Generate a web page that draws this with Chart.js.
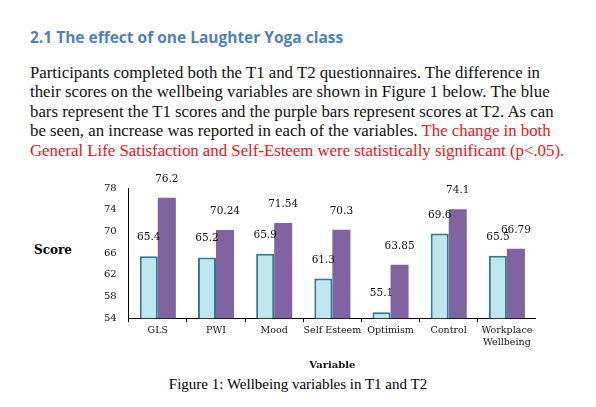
<!DOCTYPE html>
<html><head><meta charset="utf-8">
<script src="https://cdn.jsdelivr.net/npm/chart.js@4"></script>
<style>
body{margin:0;width:596px;height:407px;background:#fff;position:relative;overflow:hidden;font-family:"DejaVu Serif",serif}
#h{position:absolute;left:30px;top:26px;font-family:"Open Sans",sans-serif;font-weight:bold;font-size:15.5px;color:#4F81BD}
#p{position:absolute;left:30px;top:63px;line-height:19.4px;color:#111;font-family:"Liberation Serif",serif;font-size:16.8px;white-space:nowrap}
#p .r{color:#e8141b}
#score{position:absolute;left:34px;top:243px;font-size:12px;font-weight:bold}
#cap{position:absolute;left:0;width:596px;text-align:center;top:376px;font-family:"Liberation Serif",serif;font-size:15px}
#wrap{position:absolute;left:100px;top:170px;width:436px;height:205px}
</style></head><body>
<div id="h">2.1 The effect of one Laughter Yoga class</div>
<div id="p">Participants completed both the T1 and T2 questionnaires. The difference in<br>their scores on the wellbeing variables are shown in Figure 1 below. The blue<br>bars represent the T1 scores and the purple bars represent scores at T2. As can<br>be seen, an increase was reported in each of the variables. <span class="r">The change in both</span><br><span class="r">General Life Satisfaction and Self-Esteem were statistically significant (p&lt;.05).</span></div>
<div id="score">Score</div>
<div id="wrap"><canvas id="c"></canvas></div>
<div id="cap">Figure 1: Wellbeing variables in T1 and T2</div>
<script>
const categories=[["GLS"],["PWI"],["Mood"],["Self Esteem"],["Optimism"],["Control"],["Workplace","Wellbeing"]];
const t1=[65.4,65.2,65.9,61.3,55.1,69.6,65.5];
const t2=[76.2,70.24,71.54,70.3,63.85,74.1,66.79];
const yTicks=[54,58,62,66,70,74,78];
const ctx=document.getElementById('c').getContext('2d');
const labels={id:'lbl',afterDatasetsDraw(ch){const c=ch.ctx;c.save();c.font='10.5px "DejaVu Serif"';c.fillStyle='#111';c.textAlign='center';
ch.data.datasets.forEach((ds,i)=>{ch.getDatasetMeta(i).data.forEach((b,j)=>{c.fillText(String(ds.data[j]),b.x,b.y-16);});});c.restore();}};
new Chart(ctx,{type:'bar',data:{labels:categories,datasets:[
{label:'T1',data:t1,backgroundColor:'#bde6ef',borderColor:'#31788a',borderWidth:2,borderSkipped:false},
{label:'T2',data:t2,backgroundColor:'#8064A2',borderColor:'#8064A2',borderWidth:0}
]},options:{responsive:true,maintainAspectRatio:false,animation:false,layout:{padding:{right:0,top:18}},
datasets:{bar:{categoryPercentage:0.62,barPercentage:1}},
plugins:{legend:{display:false},tooltip:{enabled:false}},
scales:{y:{min:54,max:78,afterBuildTicks:s=>{s.ticks=yTicks.map(v=>({value:v}));},grid:{display:false,drawTicks:true},border:{color:'#000'},ticks:{color:'#111',font:{family:'DejaVu Serif',size:10},padding:4}},
x:{grid:{display:true,drawOnChartArea:false,offset:true,tickLength:4,color:'#000'},border:{color:'#000'},ticks:{color:'#111',font:{family:'DejaVu Serif',size:9.5},maxRotation:0,autoSkip:false},title:{display:true,text:'Variable',color:'#111',font:{family:'DejaVu Serif',size:10,weight:'bold'},padding:{top:8}}}}},plugins:[labels]});
</script></body></html>
